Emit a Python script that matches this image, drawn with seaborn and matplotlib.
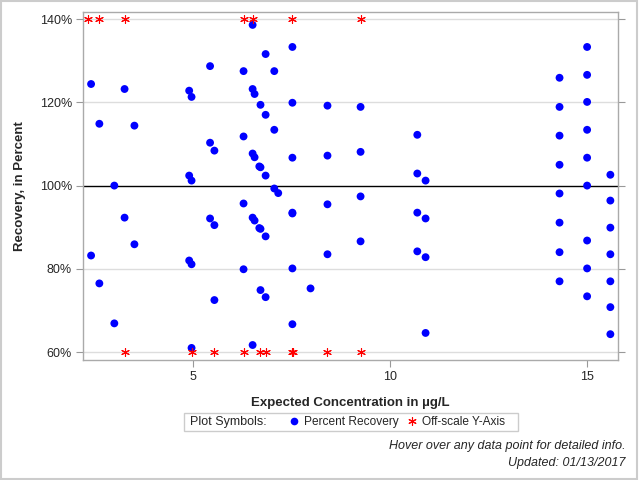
import matplotlib
matplotlib.use("Agg")
import matplotlib.pyplot as plt
from matplotlib.lines import Line2D
from matplotlib.patches import Rectangle
from matplotlib.ticker import FuncFormatter
import seaborn as sns
import pandas as pd

# Expected concentration (ug/L) and percent recovery of the on-scale points
conc = [2.41, 2.41, 2.62, 2.62, 3.0, 3.0, 3.26, 3.26, 3.51, 3.51,
        4.9, 4.9, 4.9, 4.96, 4.96, 4.96, 4.96,
        5.43, 5.43, 5.43, 5.54, 5.54, 5.54,
        6.28, 6.28, 6.28, 6.28, 6.51, 6.51, 6.51, 6.51, 6.51,
        6.56, 6.56, 6.56, 6.68, 6.68, 6.71, 6.71, 6.71, 6.71,
        6.84, 6.84, 6.84, 6.84, 6.84, 7.06, 7.06, 7.06, 7.16,
        7.52, 7.52, 7.52, 7.52, 7.52, 7.52, 7.52, 7.98,
        8.41, 8.41, 8.41, 8.41, 9.25, 9.25, 9.25, 9.25,
        10.69, 10.69, 10.69, 10.69, 10.9, 10.9, 10.9, 10.9,
        14.3, 14.3, 14.3, 14.3, 14.3, 14.3, 14.3, 14.3,
        15.0, 15.0, 15.0, 15.0, 15.0, 15.0, 15.0, 15.0, 15.0,
        15.59, 15.59, 15.59, 15.59, 15.59, 15.59, 15.59]
recovery = [124.4, 83.2, 114.85, 76.5, 100.0, 66.9, 123.2, 92.3, 114.4, 85.9,
            122.8, 102.4, 82.0, 121.3, 101.2, 81.1, 61.0,
            128.7, 110.3, 92.1, 108.4, 90.5, 72.5,
            127.5, 111.8, 95.7, 79.9, 138.6, 123.2, 107.7, 92.3, 61.7,
            122.0, 106.8, 91.6, 104.6, 89.8, 104.4, 89.6, 119.4, 74.9,
            131.6, 117.0, 102.4, 87.8, 73.2, 127.5, 113.4, 99.3, 98.2,
            133.3, 119.9, 106.7, 93.5, 93.3, 80.1, 66.7, 75.3,
            119.2, 107.2, 95.5, 83.5, 118.9, 108.1, 97.4, 86.6,
            112.2, 102.9, 93.5, 84.2, 101.2, 92.1, 82.8, 64.6,
            125.9, 118.9, 112.0, 105.0, 98.1, 91.1, 84.0, 77.0,
            133.3, 126.6, 120.1, 113.4, 106.7, 100.0, 86.8, 80.1, 73.4,
            102.6, 96.4, 89.9, 83.5, 77.0, 70.8, 64.3]

# Off-scale points, pinned to the axis limits
off_conc = [2.34, 2.62, 3.26, 6.28, 6.51, 7.52, 9.25,
            3.26, 4.96, 5.54, 6.28, 6.69, 6.84, 7.52, 7.54, 8.41, 9.25]
off_recovery = [140, 140, 140, 140, 140, 140, 140,
                60, 60, 60, 60, 60, 60, 60, 60, 60, 60]

df = pd.DataFrame({"conc": conc, "recovery": recovery})
df_off = pd.DataFrame({"conc": off_conc, "recovery": off_recovery})

sns.set_style("white")
plt.rcParams["font.family"] = ["Liberation Sans", "DejaVu Sans"]

fig = plt.figure(figsize=(6.4, 4.8), dpi=100)
ax = fig.add_axes([0.130, 0.25, 0.836, 0.725])

star = (6, 2, 0)
for y in [60, 80, 120, 140]:
    ax.axhline(y, color="#dddddd", lw=1, zorder=0)
ax.axhline(100, color="black", lw=1, zorder=1)

sns.scatterplot(data=df, x="conc", y="recovery", ax=ax, color="#0000ff",
                s=32, edgecolor="none", zorder=3)
sns.scatterplot(data=df_off, x="conc", y="recovery", ax=ax, color="red",
                marker=star, s=32, linewidth=0.8, zorder=3)

ax.set_xlim(2.21, 15.79)
ax.set_ylim(58.1, 141.7)
ax.set_xticks([5, 10, 15])
ax.set_yticks([60, 80, 100, 120, 140])
ax.yaxis.set_major_formatter(FuncFormatter(lambda v, p: f"{v:.0f}%"))
ax.tick_params(axis="both", labelsize=9, length=5, color="#999999",
               direction="out", pad=3)
ax.tick_params(axis="y", right=True, left=True)
ax.tick_params(axis="x", bottom=True)
for s in ax.spines.values():
    s.set_color("#aaaaaa")
    s.set_linewidth(1)

ax.set_xlabel("Expected Concentration in µg/L", fontsize=9.5,
              fontweight="bold", labelpad=10)
ax.set_ylabel("Recovery, in Percent", fontsize=9.5, fontweight="bold",
              labelpad=10)

# legend box with a "Plot Symbols:" caption in front of the entries
fig.patches.append(Rectangle((184 / 640, 1 - 431 / 480), 334 / 640, 18 / 480,
                             transform=fig.transFigure, fill=False,
                             edgecolor="#cccccc", lw=1))
fig.text(190 / 640, 1 - 422 / 480, "Plot Symbols:", ha="left", va="center",
         fontsize=9)
handles = [
    Line2D([], [], linestyle="none", marker="o", color="#0000ff",
           markersize=5.5, markeredgewidth=0),
    Line2D([], [], linestyle="none", marker=star, color="red",
           markersize=6, markeredgewidth=0.8),
]
labels = ["Percent Recovery", "Off-scale Y-Axis"]
leg = fig.legend(handles, labels, ncol=2, loc="center left",
                 bbox_to_anchor=(287 / 640, 1 - 422 / 480), fontsize=8.6,
                 frameon=False, handlelength=1.1, handletextpad=0.3,
                 columnspacing=0.6, borderpad=0, borderaxespad=0)

fig.text(0.978, 0.070, "Hover over any data point for detailed info.",
         ha="right", va="center", fontsize=9, style="italic")
fig.text(0.978, 0.035, "Updated: 01/13/2017", ha="right", va="center",
         fontsize=9, style="italic")

fig.patches.append(Rectangle((0.001, 0.002), 0.994, 0.996,
                             transform=fig.transFigure, fill=False,
                             edgecolor="#cccccc", lw=1.5))

fig.savefig("out.png", dpi=100)
